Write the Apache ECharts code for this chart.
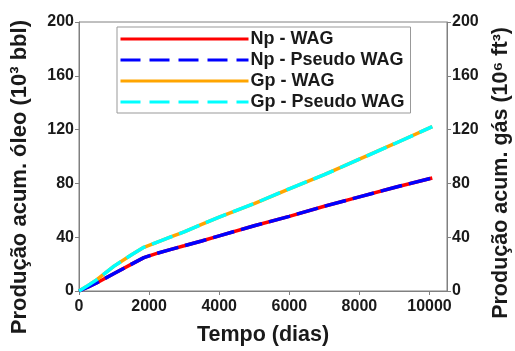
<!DOCTYPE html>
<html><head><meta charset="utf-8">
<script src="https://cdn.jsdelivr.net/npm/echarts@6/dist/echarts.min.js"></script>
<style>html,body{margin:0;padding:0;background:#fff}#c{width:515px;height:351px}</style>
</head><body><div id="c"></div>
<script>
const days = [0, 250, 500, 1000, 1500, 1850, 2200, 2600, 3000, 3500, 4000, 5000, 6000, 7000, 8000, 9000, 10080];
const npWAG = [0, 2.8, 6, 13, 20, 24.8, 27.8, 30.8, 33.6, 37.2, 41, 48.5, 55.5, 63, 70, 77, 84];
const npPseudo = [0, 2.8, 6, 13, 20, 24.8, 27.8, 30.8, 33.6, 37.2, 41, 48.5, 55.5, 63, 70, 77, 84];
const gpWAG = [0, 4, 8.3, 18.5, 27, 32.5, 36, 40, 44, 49.5, 55, 65, 76, 86.5, 98, 109.5, 122.2];
const gpPseudo = [0, 4, 8.3, 18.5, 27, 32.5, 36, 40, 44, 49.5, 55, 65, 76, 86.5, 98, 109.5, 122.2];
const names = ['Np - WAG', 'Np - Pseudo WAG', 'Gp - WAG', 'Gp - Pseudo WAG'];
const colors = ['#ff0000', '#0000ff', '#ffa500', '#00ffff'];
const xTitle = 'Tempo (dias)';
const yLeftTitle = 'Produção acum. óleo (10³ bbl)';
const yRightTitle = 'Produção acum. gás (10⁶ ft³)';

const pair = (ys) => days.map((d, i) => [d, ys[i]]);
const FONT = 'Liberation Sans';
const TXT = '#1a1a1a';
const AX = '#808080';

const chart = echarts.init(document.getElementById('c'));
const dashed = [22, 7];
const yAxisBase = {
  type: 'value', min: 0, max: 200, interval: 40,
  axisLine: { show: true, lineStyle: { color: AX, width: 1 } },
  axisTick: { show: true, length: 4, lineStyle: { color: AX } },
  splitLine: { show: false },
  axisLabel: { fontFamily: FONT, fontWeight: 'bold', fontSize: 16, color: TXT, margin: 5 }
};
chart.setOption({
  animation: false,
  backgroundColor: '#fff',
  grid: { left: 79, right: 68, top: 22, bottom: 53, show: true, borderColor: AX, borderWidth: 1 },
  legend: {
    orient: 'vertical', left: 117, top: 27,
    padding: [3, 6, 2, 2],
    backgroundColor: '#fff',
    borderColor: '#999', borderWidth: 1,
    itemWidth: 128, itemHeight: 14, itemGap: 3,
    textStyle: { fontFamily: FONT, fontWeight: 'bold', fontSize: 18, color: TXT, lineHeight: 18, padding: [0, 0, 0, -3] },
    data: names.map((n, i) => ({
      name: n,
      itemStyle: { opacity: 0 },
      lineStyle: { color: colors[i], width: 3, opacity: 1, type: i % 2 ? [20, 9] : 'solid' }
    }))
  },
  xAxis: {
    type: 'value', min: 0, max: 10500, interval: 2000,
    name: xTitle, nameLocation: 'middle', nameGap: 33,
    nameTextStyle: { fontFamily: FONT, fontWeight: 'bold', fontSize: 21.5, color: TXT },
    axisLine: { show: true, onZero: false, lineStyle: { color: AX } },
    axisTick: { show: true, length: 4, lineStyle: { color: AX } },
    splitLine: { show: false },
    axisLabel: { fontFamily: FONT, fontWeight: 'bold', fontSize: 16, color: TXT, margin: 8, showMaxLabel: false,
      formatter: (v) => String(v) }
  },
  yAxis: [
    Object.assign({}, yAxisBase, { position: 'left' }),
    Object.assign({}, yAxisBase, { position: 'right' })
  ],
  graphic: [
    { type: 'text', left: 9, top: 20, rotation: Math.PI / 2, silent: true,
      style: { text: yLeftTitle, fontFamily: FONT, fontWeight: 'bold', fontSize: 22, fill: TXT } },
    { type: 'text', left: 490, top: 27, rotation: Math.PI / 2, silent: true,
      style: { text: yRightTitle, fontFamily: FONT, fontWeight: 'bold', fontSize: 21.5, fill: TXT } }
  ],
  series: [
    { name: names[0], type: 'line', yAxisIndex: 0, data: pair(npWAG), symbol: 'none', smooth: false,
      lineStyle: { color: colors[0], width: 3.5 }, itemStyle: { color: colors[0] }, z: 2 },
    { name: names[1], type: 'line', yAxisIndex: 0, data: pair(npPseudo), symbol: 'none',
      lineStyle: { color: colors[1], width: 3.5, type: dashed }, itemStyle: { color: colors[1] }, z: 3 },
    { name: names[2], type: 'line', yAxisIndex: 1, data: pair(gpWAG), symbol: 'none',
      lineStyle: { color: colors[2], width: 3.5 }, itemStyle: { color: colors[2] }, z: 2 },
    { name: names[3], type: 'line', yAxisIndex: 1, data: pair(gpPseudo), symbol: 'none',
      lineStyle: { color: colors[3], width: 3.5, type: dashed }, itemStyle: { color: colors[3] }, z: 3 }
  ]
});
</script></body></html>
